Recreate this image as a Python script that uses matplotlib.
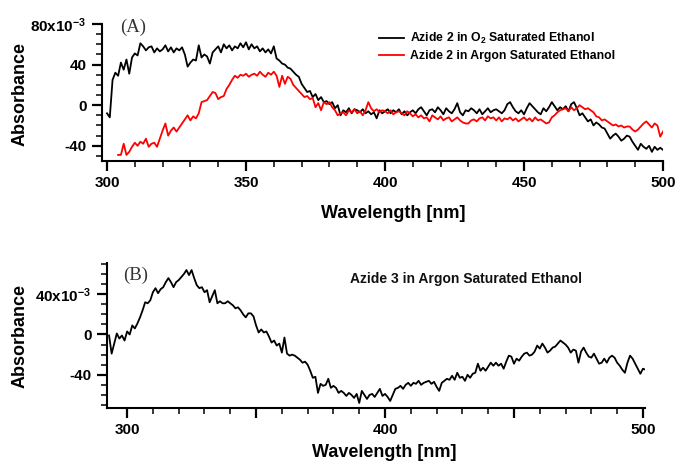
import numpy as np
import matplotlib
matplotlib.use("Agg")
import matplotlib.pyplot as plt
from matplotlib.ticker import FixedLocator, MultipleLocator

plt.rcParams['font.family'] = ['Liberation Sans', 'DejaVu Sans']
plt.rcParams['font.weight'] = 'bold'
plt.rcParams['mathtext.fontset'] = 'custom'
plt.rcParams['mathtext.rm'] = 'Liberation Sans:bold'
plt.rcParams['mathtext.bf'] = 'Liberation Sans:bold'
plt.rcParams['mathtext.default'] = 'bf'

# ---------------- Panel A data (absorbance in 1e-3 units) ----------------
wl_a_o2 = list(range(300, 501))
abs_a_o2 = [
    -8, -12, 25, 32, 29, 42, 35, 45, 31, 47,
    51, 49, 61, 58, 54, 57, 58, 52, 56, 53,
    55, 59, 53, 57, 52, 56, 54, 57, 50, 38,
    42, 45, 44, 59, 47, 50, 48, 41, 52, 55,
    58, 52, 60, 56, 59, 54, 58, 56, 61, 57,
    62, 55, 60, 56, 58, 53, 56, 52, 55, 51,
    58, 46, 44, 41, 40, 37, 36, 33, 30, 28,
    21, 17, 13, 14, 8, 11, 5, 8, 3, 4,
    1, 3, -3, 0, -10, -5, -7, -3, -8, -4,
    -5, -7, -4, -8, -6, -9, -7, -13, -5, -8,
    -6, -4, -8, -5, -7, -4, -9, -6, -10, -7,
    -5, -8, -4, -2, -6, -10, -5, -4, -7, -2,
    -5, -9, -3, -6, -8, -4, 2, -7, -10, -5,
    -6, -3, -5, -8, -4, -9, -6, -3, -7, -5,
    -4, -6, -8, -5, 1, 3, -2, -6, -8, -5,
    -9, -3, 2, -1, -4, -7, -9, -3, -6, -2,
    3, -1, -5, -2, -4, -1, -6, 1, 3, -3,
    -10, -8, -12, -16, -14, -20, -17, -19, -22, -23,
    -28, -33, -30, -28, -31, -35, -33, -30, -31, -36,
    -40, -44, -38, -41, -43, -40, -46, -41, -44, -42,
    -44,
]

wl_a_ar = list(range(304, 501))
abs_a_ar = [
    -49, -49, -38, -49, -46, -41,
    -37, -40, -36, -38, -33, -41, -38, -37, -41, -33,
    -25, -18, -30, -25, -22, -26, -22, -18, -14, -10,
    -15, -11, -13, -8, 3, 4, 5, 9, 13, 12,
    6, 8, 9, 16, 20, 25, 29, 27, 30, 29,
    31, 28, 30, 31, 29, 33, 30, 28, 32, 30,
    33, 29, 18, 29, 21, 28, 26, 20, 17, 14,
    11, 8, 9, 6, 7, -2, 2, -5, 3, 1,
    3, -2, -5, -10, -8, -7, -10, -5, -7, -4,
    -8, -6, -10, -5, 3, -3, -6, -4, -7, -5,
    -6, -8, -5, -9, -7, -6, -8, -10, -6, -8,
    -11, -9, -12, -10, -13, -12, -16, -10, -12, -14,
    -11, -15, -13, -12, -16, -14, -12, -15, -17, -18,
    -18, -15, -14, -16, -13, -12, -15, -11, -13, -12,
    -15, -12, -16, -13, -14, -12, -15, -13, -16, -14,
    -12, -15, -13, -16, -12, -15, -14, -16, -18, -17,
    -12, -10, -7, -5, -4, -3, -6, -2, -5, -3,
    0, -2, -4, -3, -5, -7, -11, -12, -15, -14,
    -16, -18, -20, -19, -21, -20, -22, -21, -21, -24,
    -26, -24, -21, -18, -16, -19, -22, -18, -20, -31,
    -26,
]

# ---------------- Panel B data ----------------
wl_b = list(range(293, 502))
abs_b = [
    -1, -19, -9, 1, -4, -1, -6,
    3, 0, 9, 6, 11, 17, 24, 32, 31, 34,
    42, 46, 41, 45, 47, 52, 56, 52, 47, 52,
    54, 57, 60, 64, 59, 64, 56, 49, 46, 47,
    42, 44, 32, 38, 44, 31, 33, 31, 31, 33,
    31, 29, 26, 27, 24, 20, 17, 21, 21, 18,
    9, 2, 5, 2, 3, -2, -8, -6, -11, -9,
    -18, -3, -19, -21, -20, -21, -23, -25, -28, -27,
    -30, -36, -43, -42, -58, -49, -51, -50, -44, -53,
    -51, -53, -58, -56, -58, -61, -58, -60, -63, -59,
    -68, -56, -60, -64, -60, -59, -62, -58, -54, -61,
    -59, -62, -66, -60, -54, -53, -51, -54, -50, -48,
    -51, -48, -49, -46, -50, -48, -47, -46, -49, -47,
    -52, -56, -48, -46, -44, -45, -41, -45, -38, -43,
    -42, -46, -40, -43, -39, -38, -29, -36, -33, -36,
    -32, -28, -31, -28, -31, -29, -34, -27, -21, -22,
    -29, -24, -26, -22, -19, -18, -21, -20, -17, -11,
    -14, -9, -13, -18, -16, -13, -12, -9, -6, -8,
    -10, -13, -18, -15, -16, -28, -17, -13, -18, -22,
    -23, -19, -24, -29, -28, -24, -28, -23, -21, -23,
    -28, -31, -35, -38, -28, -21, -24, -29, -34, -39,
    -34, -35,
]

label_o2 = r"Azide 2 in O$_2$ Saturated Ethanol"
label_ar = "Azide 2 in Argon Saturated Ethanol"
label_b = "Azide 3 in Argon Saturated Ethanol"

W, H = 675, 467
fig = plt.figure(figsize=(W / 100, H / 100), dpi=100)

def px_axes(l, t, r, b):
    return fig.add_axes([l / W, 1 - b / H, (r - l) / W, (b - t) / H])

def style(ax):
    for s in ['top', 'right']:
        ax.spines[s].set_visible(False)
    for s in ['left', 'bottom']:
        ax.spines[s].set_linewidth(1.5)
    ax.tick_params(which='major', direction='out', length=7, width=1.6,
                   labelsize=11, pad=4)
    ax.tick_params(which='minor', direction='out', length=4, width=1.1)
    for lab in ax.get_xticklabels() + ax.get_yticklabels():
        lab.set_fontweight('bold')

# ---- Panel A ----
axA = px_axes(102, 24, 663, 161)
axA.plot(wl_a_o2, abs_a_o2, color='black', lw=1.3, label=label_o2)
axA.plot(wl_a_ar, abs_a_ar, color='#ff0000', lw=1.3, label=label_ar)
axA.set_xlim(298.2, 500)
axA.set_ylim(-55, 80)
axA.xaxis.set_major_locator(FixedLocator([300, 350, 400, 450, 500]))
axA.xaxis.set_minor_locator(MultipleLocator(10))
axA.yaxis.set_major_locator(FixedLocator([-40, 0, 40, 80]))
axA.yaxis.set_minor_locator(MultipleLocator(10))
axA.set_yticklabels(['-40', '0', '40', r'80x10$^{-3}$'])
style(axA)
axA.text(0.52, -0.38, "Wavelength [nm]", transform=axA.transAxes,
         ha='center', va='center', fontsize=13, fontweight='bold')
axA.text(-0.146, 0.49, "Absorbance", transform=axA.transAxes, rotation=90,
         ha='center', va='center', fontsize=13, fontweight='bold')
leg = axA.legend(loc='upper left', bbox_to_anchor=(0.494, 0.95), frameon=False,
                 fontsize=8.8, handlelength=2.0, handletextpad=0.5,
                 labelspacing=0.35, borderpad=0, borderaxespad=0)
for t in leg.get_texts():
    t.set_fontweight('bold')
fig.text(120 / W, 1 - 27 / H, "(A)", family='Liberation Serif', fontsize=13.5,
         fontweight='normal', color='#333333', va='center', ha='left')

# ---- Panel B ----
axB = px_axes(107, 263, 645, 408)
axB.plot(wl_b, abs_b, color='black', lw=1.3)
axB.set_xlim(292.2, 500.8)
axB.set_ylim(-73, 71)
axB.xaxis.set_major_locator(FixedLocator([300, 350, 400, 450, 500]))
axB.xaxis.set_minor_locator(MultipleLocator(10))
axB.set_xticklabels(['300', '', '400', '', '500'])
axB.yaxis.set_major_locator(FixedLocator([-40, 0, 40]))
axB.yaxis.set_minor_locator(MultipleLocator(10))
axB.set_yticklabels(['-40', '0', r'40x10$^{-3}$'])
style(axB)
axB.text(0.515, -0.31, "Wavelength [nm]", transform=axB.transAxes,
         ha='center', va='center', fontsize=13, fontweight='bold')
axB.text(-0.162, 0.5, "Absorbance", transform=axB.transAxes, rotation=90,
         ha='center', va='center', fontsize=13, fontweight='bold')
fig.text(350 / W, 1 - 279 / H, label_b, fontsize=10, fontweight='bold',
         va='center', ha='left', color='#111111')
fig.text(123 / W, 1 - 275 / H, "(B)", family='Liberation Serif', fontsize=13.5,
         fontweight='normal', color='#333333', va='center', ha='left')

fig.savefig("out.png", dpi=100)
